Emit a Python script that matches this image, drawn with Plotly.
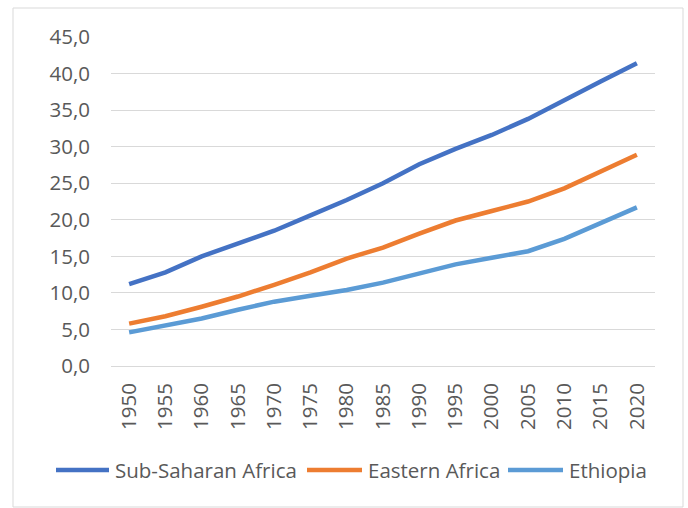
import plotly.graph_objects as go

# Chart data
years = ["1950", "1955", "1960", "1965", "1970", "1975", "1980", "1985",
         "1990", "1995", "2000", "2005", "2010", "2015", "2020"]
sub_saharan = [11.2, 12.8, 15.0, 16.7, 18.5, 20.6, 22.7, 25.0,
               27.6, 29.7, 31.6, 33.8, 36.4, 38.9, 41.4]
eastern = [5.8, 6.8, 8.1, 9.5, 11.1, 12.8, 14.7, 16.2,
           18.1, 19.9, 21.2, 22.5, 24.3, 26.6, 28.9]
ethiopia = [4.6, 5.5, 6.5, 7.7, 8.8, 9.6, 10.4, 11.4,
            12.6, 13.9, 14.8, 15.7, 17.4, 19.5, 21.7]
y_ticks = [0, 5, 10, 15, 20, 25, 30, 35, 40, 45]

series = [
    ("Sub-Saharan Africa", sub_saharan, "#4472C4"),
    ("Eastern Africa", eastern, "#ED7D31"),
    ("Ethiopia", ethiopia, "#5B9BD5"),
]

W, H = 688, 508
L, R, T, B = 111, 33, 37, 142
pw, ph = W - L - R, H - T - B


def px_x(x):
    return (x - L) / pw


def px_y(y):
    return (H - B - y) / ph


FONT = "Open Sans"
TXT = "#595959"
GRID = "#D9D9D9"

fig = go.Figure()
for name, vals, color in series:
    fig.add_trace(go.Scatter(
        x=years, y=vals, mode="lines", name=name,
        line=dict(color=color, width=4.5), showlegend=False,
    ))

shapes = [
    # chart border
    dict(type="rect", xref="paper", yref="paper",
         x0=px_x(13), x1=px_x(683), y0=px_y(507), y1=px_y(8),
         line=dict(color=GRID, width=1), fillcolor="rgba(0,0,0,0)", layer="below"),
]
annotations = []

# legend row below the axis
legend_pos = [(56, 109, 113), (307, 362, 366), (508, 563, 567)]
for (name, _, color), (lx0, lx1, tx) in zip(series, legend_pos):
    shapes.append(dict(type="line", xref="paper", yref="paper",
                       x0=px_x(lx0), x1=px_x(lx1), y0=px_y(470), y1=px_y(470),
                       line=dict(color=color, width=4.5)))
    annotations.append(dict(text=name, xref="paper", yref="paper",
                            x=px_x(tx), y=px_y(470), xanchor="left", yanchor="middle",
                            showarrow=False, font=dict(family=FONT, size=20.5, color=TXT)))

fig.update_layout(
    width=W, height=H,
    margin=dict(l=L, r=R, t=T, b=B),
    paper_bgcolor="white", plot_bgcolor="white",
    separators=", ",
    shapes=shapes, annotations=annotations,
    showlegend=False,
    font=dict(family=FONT, size=20.5, color=TXT),
)
fig.update_xaxes(
    type="category", range=[-0.5, len(years) - 0.5],
    tickangle=-90, showgrid=False, showline=False,
    ticks="", ticklabelstandoff=12,
    tickfont=dict(family=FONT, size=20.5, color=TXT),
)
fig.update_yaxes(
    range=[0, 45], tickvals=y_ticks, tickformat=".1f",
    showgrid=True, gridcolor=GRID, gridwidth=1,
    zeroline=True, zerolinecolor=GRID, zerolinewidth=1,
    showline=False, ticks="", ticklabelstandoff=20,
    tickfont=dict(family=FONT, size=20.5, color=TXT),
)

fig.write_html("out.html")
